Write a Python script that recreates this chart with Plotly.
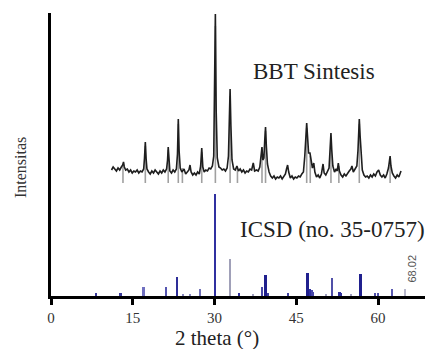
import plotly.graph_objects as go

# ---------------- data ----------------
# Experimental pattern (BBT Sintesis), 2-theta (deg) and intensity (arb. units)
exp_2theta = [11.1, 11.4, 11.7, 12.0, 12.3, 12.6, 12.9, 13.15, 13.3, 13.45, 13.7, 14.0, 14.3, 14.6, 14.9,
              15.2, 15.5, 15.8, 16.1, 16.4, 16.7, 17.0, 17.15, 17.3, 17.45, 17.6, 17.9, 18.2, 18.5, 18.8,
              19.1, 19.4, 19.7, 20.0, 20.3, 20.6, 20.9, 21.2, 21.38, 21.5, 21.62, 21.8, 22.1, 22.4, 22.7,
              23.0, 23.2, 23.35, 23.5, 23.7, 24.0, 24.4, 24.7, 25.0, 25.3, 25.5, 25.7, 26.0, 26.3, 26.6,
              26.9, 27.2, 27.45, 27.65, 27.85, 28.1, 28.4, 28.7, 29.0, 29.3, 29.6, 29.85, 30.0, 30.15, 30.3,
              30.5, 30.8, 31.1, 31.4, 31.7, 32.0, 32.3, 32.55, 32.7, 32.85, 33.0, 33.2, 33.5, 33.8, 34.1,
              34.4, 34.7, 35.0, 35.3, 35.6, 35.9, 36.2, 36.5, 36.8, 37.1, 37.35, 37.7, 38.0, 38.3, 38.55,
              38.7, 38.85, 39.05, 39.2, 39.35, 39.5, 39.7, 40.0, 40.3, 40.6, 40.9, 41.2, 41.5, 41.8, 42.1,
              42.4, 42.7, 43.0, 43.2, 43.4, 43.6, 43.9, 44.2, 44.5, 44.8, 45.1, 45.4, 45.7, 46.0, 46.3,
              46.55, 46.75, 46.9, 47.05, 47.25, 47.5, 47.7, 47.95, 48.2, 48.4, 48.7, 49.0, 49.3, 49.6, 49.9,
              50.1, 50.4, 50.7, 51.0, 51.2, 51.35, 51.5, 51.7, 52.0, 52.3, 52.5, 52.7, 52.9, 53.2, 53.5,
              53.8, 54.1, 54.4, 54.7, 55.0, 55.2, 55.45, 55.8, 56.1, 56.3, 56.45, 56.55, 56.7, 56.9, 57.1,
              57.4, 57.7, 58.0, 58.3, 58.6, 58.9, 59.2, 59.5, 59.8, 60.1, 60.4, 60.7, 61.0, 61.3, 61.6,
              61.9, 62.1, 62.2, 62.35, 62.6, 62.9, 63.2, 63.5, 63.8, 64.0, 64.2]
exp_intensity = [126, 129, 127, 125, 128, 126, 129, 131, 134, 129, 126, 127, 124, 126, 123,
                 125, 124, 126, 123, 125, 124, 127, 138, 154, 137, 127, 124, 122, 125, 123,
                 126, 124, 122, 125, 123, 126, 124, 127, 136, 149, 134, 125, 123, 126, 124,
                 127, 142, 177, 145, 128, 124, 127, 122, 124, 126, 131, 124, 121, 123, 121,
                 124, 122, 130, 148, 129, 124, 126, 125, 128, 127, 130, 140, 190, 282, 185,
                 138, 129, 128, 126, 127, 125, 128, 140, 175, 207, 170, 136, 127, 126, 130,
                 125, 127, 124, 126, 123, 125, 124, 127, 126, 133, 125, 126, 125, 129, 140,
                 149, 136, 138, 155, 169, 150, 132, 124, 120, 118, 120, 117, 119, 118, 120,
                 117, 119, 122, 127, 131, 124, 118, 120, 117, 119, 118, 120, 119, 122, 124,
                 140, 165, 173, 160, 143, 143, 135, 128, 133, 124, 119, 121, 118, 122, 132,
                 123, 121, 124, 128, 148, 163, 146, 130, 124, 127, 125, 133, 125, 121, 119,
                 122, 120, 123, 125, 127, 130, 124, 127, 130, 145, 170, 177, 160, 138, 126,
                 121, 119, 120, 118, 121, 119, 122, 120, 124, 126, 121, 119, 121, 118, 122,
                 128, 136, 140, 130, 123, 120, 118, 121, 119, 122, 125]

# Grey fitted reflections overlaid on the experimental pattern: position, top, bottom
fit_2theta = [13.2, 17.3, 21.5, 23.35, 24.1, 27.65, 30.15, 32.85, 34.2, 38.7, 39.35, 46.9, 47.55, 51.35, 52.8, 56.55, 62.2]
fit_top = [130, 150, 146, 172, 128, 144, 270, 200, 127, 145, 165, 168, 140, 158, 130, 172, 136]
fit_bottom = [113] * len(fit_2theta)

# ICSD reference (no. 35-0757) stick pattern
icsd_2theta = [8.3, 12.8, 17.0, 21.1, 23.15, 24.3, 25.6, 27.45, 30.15, 32.8, 34.5, 37.0, 38.7, 39.4, 39.8,
               43.4, 47.1, 47.5, 47.8, 48.1, 50.5, 51.6, 52.9, 53.1, 55.0, 56.75, 59.5, 60.1, 62.6, 65.0]
icsd_intensity = [3, 3, 9, 9, 19, 2, 2, 7, 102, 37, 3, 2, 9, 21, 3,
                  3, 23, 7, 6, 4, 2, 18, 4, 3, 2, 22, 3, 3, 7, 7]
icsd_colors = ["#3a3a9a", "#3a3a9a", "#7070c0", "#5555b0", "#2e2e98", "#8888c0", "#8888c0", "#7070b8",
               "#3030a0", "#a0a0b8", "#30309a", "#a0a0c0", "#4848a8", "#20208e", "#4040a0",
               "#4040a0", "#20208e", "#3030a0", "#4848a8", "#4848a8", "#a0a0c0", "#5050a8", "#30309a",
               "#30309a", "#a0a0c0", "#20208e", "#5050a8", "#5050a8", "#5a5ab0", "#b8b8cc"]
icsd_widths = [0.3, 0.3, 0.35, 0.35, 0.4, 0.25, 0.25, 0.3, 0.4, 0.2, 0.45, 0.2, 0.35, 0.5, 0.3,
               0.4, 0.5, 0.45, 0.4, 0.4, 0.2, 0.3, 0.45, 0.4, 0.2, 0.5, 0.3, 0.3, 0.3, 0.25]

x_tick_vals = [0, 15, 30, 45, 60]
x_tick_text = ["0", "15", "30", "45", "60"]

# ---------------- figure ----------------
fig = go.Figure()

# ICSD sticks
fig.add_trace(go.Bar(x=icsd_2theta, y=icsd_intensity, width=icsd_widths,
                     marker=dict(color=icsd_colors, line=dict(width=0)), showlegend=False))

# grey fit sticks
gx, gy = [], []
for p, t, b in zip(fit_2theta, fit_top, fit_bottom):
    gx += [p, p, None]
    gy += [b, t, None]
fig.add_trace(go.Scatter(x=gx, y=gy, mode="lines", line=dict(color="#a0a0a0", width=1.6),
                         showlegend=False, hoverinfo="skip"))

# experimental pattern
fig.add_trace(go.Scatter(x=exp_2theta, y=exp_intensity, mode="lines",
                         line=dict(color="#1e1e1e", width=1.6), showlegend=False))

serif = "Liberation Serif"

fig.update_layout(
    width=431, height=349,
    margin=dict(l=51, r=6, t=13, b=53),
    paper_bgcolor="white", plot_bgcolor="white",
    bargap=0,
    xaxis=dict(range=[0, 68.6], showgrid=False, zeroline=False,
               showline=True, linecolor="black", linewidth=3,
               tickvals=x_tick_vals, ticktext=x_tick_text,
               ticks="outside", ticklen=6, tickwidth=3, tickcolor="black",
               tickfont=dict(family=serif, size=15, color="#333333")),
    yaxis=dict(range=[0, 283], showgrid=False, zeroline=False,
               showline=True, linecolor="black", linewidth=3,
               showticklabels=False, ticks=""),
    annotations=[
        dict(text="BBT Sintesis", xref="paper", yref="y", x=(313.7 - 51) / 374, y=225,
             xanchor="center", yanchor="middle",
             showarrow=False, font=dict(family=serif, size=23, color="#222222")),
        dict(text="ICSD (no. 35-0757)", xref="paper", yref="y", x=(332.5 - 51) / 374, y=67,
             xanchor="center", yanchor="middle",
             showarrow=False, font=dict(family=serif, size=23, color="#222222")),
        dict(text="68.02", xref="paper", yref="y", x=(411.5 - 51) / 374, y=27, textangle=-90,
             xanchor="center", yanchor="middle",
             showarrow=False, font=dict(family="Liberation Sans", size=11, color="#555555")),
        dict(text="2 theta (°)", xref="paper", yref="paper", x=(216.7 - 51) / 374, y=-(338 - 296) / 283,
             xanchor="center", yanchor="middle",
             showarrow=False, font=dict(family=serif, size=21, color="#222222")),
        dict(text="Intensitas", xref="paper", yref="paper", x=(20 - 51) / 374, y=(296 - 168) / 283,
             xanchor="center", yanchor="middle",
             textangle=-90, showarrow=False, font=dict(family=serif, size=16, color="#333333")),
    ],
)

fig.write_html("out.html", config={"displayModeBar": False},
               post_script="document.body.style.margin='0';")
